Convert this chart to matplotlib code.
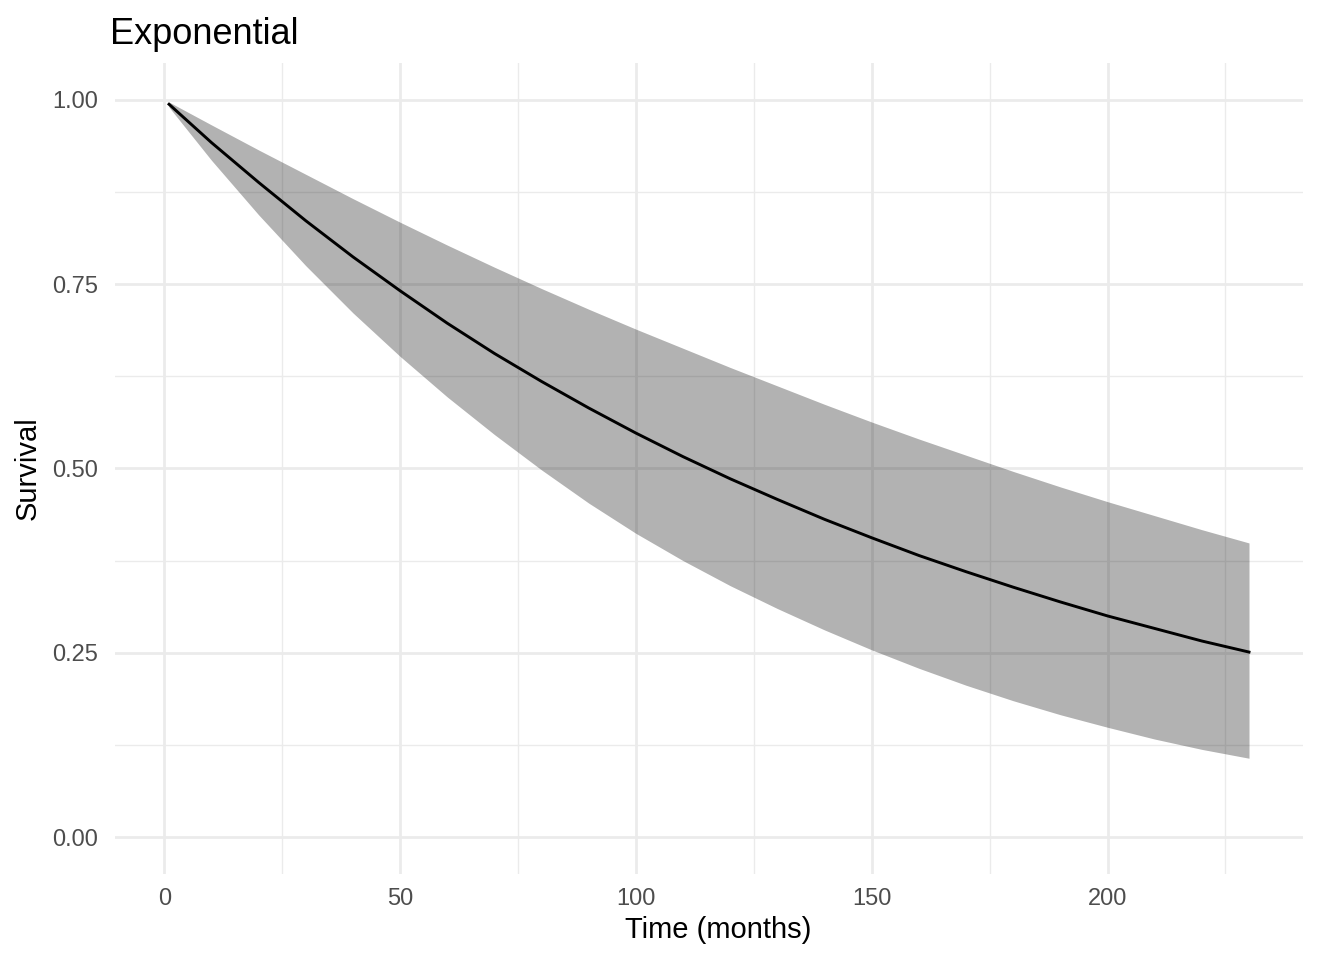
import numpy as np
import matplotlib.pyplot as plt

# survival curve (months)
time = [1, 10, 20, 30, 40, 50, 60, 70, 80, 90, 100, 110, 120,
        130, 140, 150, 160, 170, 180, 190, 200, 210, 220, 230]
surv = [0.994, 0.942, 0.888, 0.836, 0.787, 0.741, 0.697, 0.656, 0.618, 0.582, 0.548, 0.516,
        0.486, 0.458, 0.431, 0.406, 0.382, 0.360, 0.339, 0.319, 0.300, 0.283, 0.266, 0.251]
upper = [0.997, 0.966, 0.932, 0.899, 0.866, 0.834, 0.803, 0.773, 0.744, 0.716, 0.689, 0.663,
         0.637, 0.612, 0.587, 0.563, 0.540, 0.518, 0.496, 0.475, 0.455, 0.436, 0.417, 0.399]
lower = [0.990, 0.918, 0.844, 0.775, 0.711, 0.652, 0.597, 0.546, 0.498, 0.453, 0.412, 0.375,
         0.341, 0.310, 0.281, 0.254, 0.229, 0.206, 0.185, 0.166, 0.149, 0.133, 0.119, 0.107]

x_ticks = [0, 50, 100, 150, 200]
y_ticks = [0.00, 0.25, 0.50, 0.75, 1.00]

plt.rcParams['font.family'] = ['Liberation Sans', 'DejaVu Sans']

fig = plt.figure(figsize=(13.44, 9.6), dpi=100)
ax = fig.add_axes([0.0856, 0.0896, 0.8839, 0.8448])

ax.fill_between(time, lower, upper, color='black', alpha=0.3, linewidth=0, zorder=2)
ax.plot(time, surv, color='black', lw=2.1, zorder=3)

span = time[-1] - time[0]
ax.set_xlim(time[0] - 0.05 * span, time[-1] + 0.05 * span)
ax.set_ylim(-0.05, 1.05)

ax.set_xticks(x_ticks)
ax.set_xticklabels([str(v) for v in x_ticks])
ax.set_yticks(y_ticks)
ax.set_yticklabels([f"{v:.2f}" for v in y_ticks])
ax.set_xticks([25, 75, 125, 175, 225], minor=True)
ax.set_yticks([0.125, 0.375, 0.625, 0.875], minor=True)

ax.grid(which='major', color='#EBEBEB', lw=2, zorder=0)
ax.grid(which='minor', color='#EBEBEB', lw=1, zorder=0)
ax.set_axisbelow(True)
for s in ax.spines.values():
    s.set_visible(False)
ax.tick_params(which='both', length=0)
ax.tick_params(axis='x', pad=10, labelsize=17, labelcolor='#4D4D4D')
ax.tick_params(axis='y', pad=12, labelsize=17, labelcolor='#4D4D4D')

ax.set_xlabel('Time (months)', fontsize=21, labelpad=5)
ax.xaxis.set_label_coords(0.508, -0.052)
ax.set_ylabel('Survival', fontsize=21, labelpad=8)
ax.set_title('Exponential', loc='left', fontsize=26, pad=14, x=-0.004)

fig.savefig('out.png', dpi=100)
